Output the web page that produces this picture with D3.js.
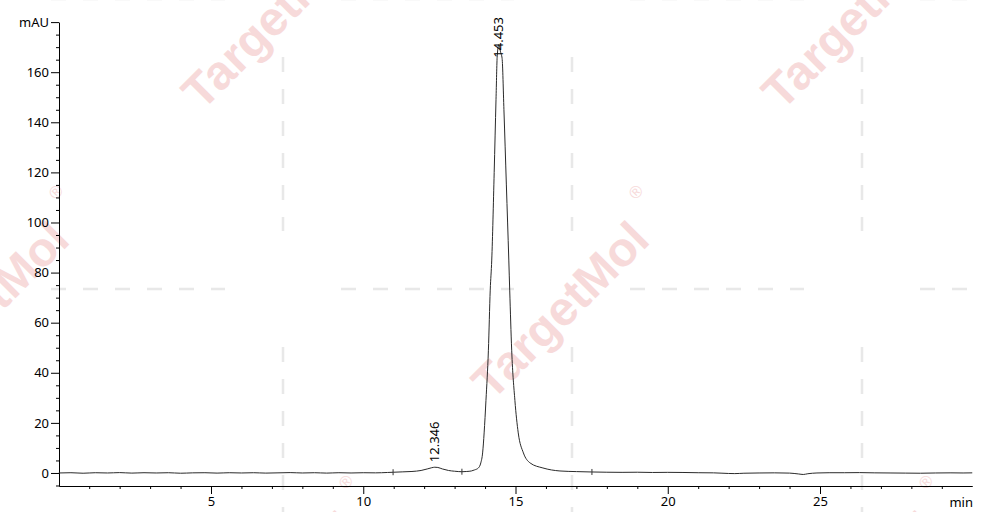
<!DOCTYPE html>
<html>
<head>
<meta charset="utf-8">
<script src="https://cdn.jsdelivr.net/npm/d3@7"></script>
<style>
  body { margin: 0; background: #fff; }
  svg { display: block; font-family: "Noto Sans", sans-serif; }
</style>
</head>
<body>
<svg id="chart" width="984" height="512"></svg>
<script>
// クロマトグラムの値
const timeMin = [
  0.0, 0.4, 0.8, 1.2, 1.6, 2.0, 2.4, 2.8, 3.2, 3.6, 4.0, 4.4, 4.8, 5.2, 5.6,
  6.0, 6.4, 6.8, 7.2, 7.6, 8.0, 8.4, 8.8, 9.2, 9.6, 10.0, 10.4, 10.8, 11.0,
  11.3, 11.6, 11.9, 12.1, 12.25, 12.35, 12.45, 12.6, 12.8, 13.0, 13.24, 13.4,
  13.55, 13.65, 13.78, 13.86, 13.92, 13.97, 14.03, 14.11, 14.17, 14.22, 14.30,
  14.36, 14.40, 14.453, 14.51, 14.56, 14.62, 14.70, 14.78, 14.81, 14.875,
  14.98, 15.09, 15.26, 15.48, 15.90, 16.46, 17.0, 17.5, 18.0, 18.5, 19.0,
  19.5, 20.0, 20.5, 21.0, 21.5, 22.0, 22.2, 22.5, 23.0, 23.5, 24.0, 24.3,
  24.45, 24.6, 24.9, 25.3, 25.8, 26.3, 26.8, 27.3, 27.8, 28.3, 28.8, 29.3,
  29.7, 30.0
];
const signalMAU = [
  0.0, 0.1, -0.1, 0.1, 0.0, 0.15, -0.05, 0.1, 0.0, 0.1, -0.1, 0.05, 0.1, -0.05, 0.1,
  0.0, 0.1, -0.05, 0.05, 0.15, 0.0, 0.1, -0.05, 0.1, 0.0, 0.1, 0.05, 0.2, 0.3,
  0.45, 0.6, 1.0, 1.6, 2.1, 2.3, 2.2, 1.6, 1.0, 0.7, 0.5, 0.6,
  0.8, 1.2, 2.0, 4.0, 8.0, 16.0, 29, 49, 73, 85, 120,
  149, 166.5, 171, 168, 165.5, 145, 115, 85, 73, 49,
  29, 16, 8, 4, 2, 0.8, 0.55, 0.4, 0.3, 0.25, 0.3,
  0.2, 0.25, 0.2, 0.1, 0.05, -0.2, -0.25, -0.1, 0.0, 0.05, -0.05, -0.4,
  -0.6, -0.3, 0.0, 0.1, 0.1, 0.15, 0.05, 0.0, -0.05, -0.1, 0.0, 0.05,
  0.0, 0.05
];

// ピーク
const peakTimes = [12.346, 14.453];
const peakHeights = [2.3, 171];
const peakLabels = ["12.346", "14.453"];

// 積分の区切り
const cutTimes = [10.98, 13.24, 17.51];
const cutValues = [0.3, 0.5, 0.4];

// 目盛
const yTickValues = [0, 20, 40, 60, 80, 100, 120, 140, 160, 180];
const xTickValues = [5, 10, 15, 20, 25];

drawChromatogram();

function drawChromatogram(){
    const svg = d3.select('#chart');
    svg.append('rect').attr('width', 984).attr('height', 512).attr('fill', '#fff');

    drawWatermark(svg);

    const x = d3.scaleLinear().domain([0, 30]).range([58.75, 972.25]);
    const y = d3.scaleLinear().domain([-5.2, 180]).range([486, 22.1]);

    // 縦軸
    const yAxis = d3.axisLeft(y)
        .tickValues(yTickValues)
        .tickSize(8).tickSizeOuter(0).tickPadding(2)
        .tickFormat(d => d === 180 ? 'mAU' : d);
    svg.append('g').attr('transform', 'translate(59,0)').call(yAxis);
    const yMinor = d3.range(-5, 180, 5).filter(d => d % 20 !== 0);
    svg.append('g').attr('transform', 'translate(59,0)')
        .call(d3.axisLeft(y).tickValues(yMinor).tickSize(3).tickSizeOuter(0).tickFormat(''))
        .select('.domain').remove();

    // 横軸
    const xAxis = d3.axisBottom(x)
        .tickValues(xTickValues)
        .tickSize(8).tickSizeOuter(0).tickPadding(3);
    svg.append('g').attr('transform', 'translate(0,486)').call(xAxis);
    const xMinor = d3.range(1, 30).filter(d => d % 5 !== 0);
    svg.append('g').attr('transform', 'translate(0,486)')
        .call(d3.axisBottom(x).tickValues(xMinor).tickSize(3).tickSizeOuter(0).tickFormat(''))
        .select('.domain').remove();

    svg.selectAll('.tick text').attr('font-size', 13).attr('font-family', '"Noto Sans", sans-serif').attr('fill', '#000');

    svg.append('text')
        .attr('x', 973).attr('y', 507)
        .attr('text-anchor', 'end')
        .attr('font-size', 13)
        .text('min');

    // トレース
    const pts = timeMin.map((t, i) => [t, signalMAU[i]]);
    const line = d3.line()
        .x(d => x(d[0]))
        .y(d => y(d[1]))
        .curve(d3.curveMonotoneX);
    svg.append('path')
        .datum(pts)
        .attr('d', line)
        .attr('fill', 'none')
        .attr('stroke', '#2a2a2a')
        .attr('stroke-width', 1);

    // 区切りマーク
    svg.selectAll('.cut')
        .data(cutTimes)
        .enter().append('line')
        .attr('x1', d => x(d)).attr('x2', d => x(d))
        .attr('y1', (d, i) => y(cutValues[i]) - 3)
        .attr('y2', (d, i) => y(cutValues[i]) + 3)
        .attr('stroke', '#333');

    // ピークラベル（上にはみ出す場合は下へずらす）
    peakTimes.forEach((t, i) => {
        const lbl = svg.append('text')
            .attr('font-size', 13)
            .text(peakLabels[i]);
        const len = lbl.node().getComputedTextLength();
        let bottom = y(peakHeights[i]) - 5;
        if (bottom - len < 17) bottom = 17 + len;
        const lx = x(t) + 4.5;
        lbl.attr('transform', `translate(${lx},${bottom}) rotate(-90)`);
    });
}

// 透かし（TargetMol）
function drawWatermark(svg){
    const g = svg.append('g');
    // 破線の格子
    const cols = [-7, 283, 572, 862, 1152];
    const rows = [-1, 289, 579];
    const gap = 58;
    const dashStyle = (sel) => sel
        .attr('stroke', '#e8e8e8')
        .attr('stroke-width', 2.5)
        .attr('stroke-dasharray', '15,17');
    rows.forEach(ry => {
        for (let k = 0; k < cols.length - 1; k++){
            g.append('line')
                .attr('x1', cols[k] + gap).attr('x2', cols[k+1] - gap)
                .attr('y1', ry).attr('y2', ry)
                .call(dashStyle);
        }
    });
    cols.forEach(cx => {
        for (let k = 0; k < rows.length - 1; k++){
            g.append('line')
                .attr('x1', cx).attr('x2', cx)
                .attr('y1', rows[k] + gap).attr('y2', rows[k+1] - gap)
                .call(dashStyle);
        }
    });

    const centers = [[560, 310], [270, 20], [850, 20], [-20, 310], [270, 600], [850, 600]];
    centers.forEach(c => {
        const w = g.append('g').attr('transform', `translate(${c[0]},${c[1]}) rotate(-45)`);
        w.append('text')
            .attr('text-anchor', 'middle')
            .attr('dy', '0.35em')
            .attr('font-family', '"Liberation Sans", Arial, sans-serif')
            .attr('font-weight', 'bold')
            .attr('font-size', 48)
            .attr('fill', '#f7dada')
            .text('TargetMol');
        w.append('text')
            .attr('x', 137).attr('y', -30)
            .attr('text-anchor', 'middle')
            .attr('dy', '0.35em')
            .attr('font-family', '"Liberation Sans", Arial, sans-serif')
            .attr('font-size', 17)
            .attr('fill', '#f7dada')
            .text('®');
    });
}
</script>
</body>
</html>
